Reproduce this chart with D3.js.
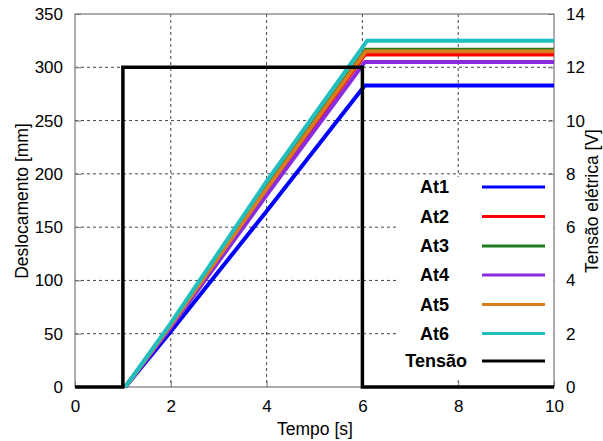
<!DOCTYPE html>
<html>
<head>
<meta charset="utf-8">
<script src="https://cdn.jsdelivr.net/npm/d3@7"></script>
<style>
  html, body { margin: 0; padding: 0; background: #fff; }
  svg text { font-family: "Liberation Sans", Arial, sans-serif; }
</style>
</head>
<body>
<svg id="chart" width="603" height="441"></svg>
<script>
// Displacement of each actuator over time [s, mm]
const seriesNames = ["At1", "At2", "At3", "At4", "At5", "At6"];
const seriesColors = ["#0000ff", "#ff0000", "#1e7b1e", "#8a2be2", "#d97c1e", "#1fbfbf"];
const at1 = [[1.05, 0], [2.0, 52], [4.0, 165], [6.05, 283], [10, 283]];
const at2 = [[1.05, 0], [2.0, 57], [4.0, 184], [6.05, 312], [10, 312]];
const at3 = [[1.05, 0], [2.0, 58], [4.0, 187], [6.07, 316.5], [10, 316.5]];
const at4 = [[1.05, 0], [2.0, 56], [4.0, 180], [6.05, 305], [10, 305]];
const at5 = [[1.05, 0], [2.0, 58], [4.0, 186], [6.07, 315], [10, 315]];
const at6 = [[1.05, 0], [2.0, 60], [4.0, 193], [6.1, 325], [10, 325]];
const seriesValues = [at1, at2, at3, at4, at5, at6];

// Supply voltage [s, V]
const tensaoLabel = "Tensão";
const tensao = [[0, 0], [1, 0], [1, 12], [6, 12], [6, 0], [10, 0]];

// Tick values
const xTicks = [0, 2, 4, 6, 8, 10];
const yTicks = [0, 50, 100, 150, 200, 250, 300, 350];
const y2Ticks = [0, 2, 4, 6, 8, 10, 12, 14];

const svg = d3.select("#chart");
const m = { left: 75, right: 554, top: 14, bottom: 387 };

const x = d3.scaleLinear().domain([0, 10]).range([m.left, m.right]);
const y = d3.scaleLinear().domain([0, 350]).range([m.bottom, m.top]);
const y2 = d3.scaleLinear().domain([0, 14]).range([m.bottom, m.top]);

// Grid
const grid = svg.append("g");
grid.selectAll("line.gx").data(xTicks.slice(1, -1)).join("line")
  .attr("x1", d => x(d)).attr("x2", d => x(d))
  .attr("y1", m.top).attr("y2", m.bottom)
  .attr("stroke", "#444").attr("stroke-width", 1).attr("stroke-dasharray", "3,3");
grid.selectAll("line.gy").data(yTicks.slice(1, -1)).join("line")
  .attr("x1", m.left).attr("x2", m.right)
  .attr("y1", d => y(d)).attr("y2", d => y(d))
  .attr("stroke", "#444").attr("stroke-width", 1).attr("stroke-dasharray", "3,3");

// Axes
const tickFont = "17px";
const xAxis = svg.append("g").attr("transform", `translate(0,${m.bottom})`)
  .call(d3.axisBottom(x).tickValues(xTicks).tickSizeInner(-6).tickSizeOuter(0).tickPadding(13));
const yAxis = svg.append("g").attr("transform", `translate(${m.left},0)`)
  .call(d3.axisLeft(y).tickValues(yTicks).tickSizeInner(-6).tickSizeOuter(0).tickPadding(12));
const y2Axis = svg.append("g").attr("transform", `translate(${m.right},0)`)
  .call(d3.axisRight(y2).tickValues(y2Ticks).tickSizeInner(-6).tickSizeOuter(0).tickPadding(12));
[xAxis, yAxis, y2Axis].forEach(a => {
  a.select(".domain").remove();
  a.selectAll(".tick line").attr("stroke", "#777");
  a.selectAll(".tick text").attr("fill", "#000").style("font-size", tickFont)
    .style("font-family", "'Liberation Sans', Arial, sans-serif");
});

// Frame
svg.append("rect")
  .attr("x", m.left).attr("y", m.top)
  .attr("width", m.right - m.left).attr("height", m.bottom - m.top)
  .attr("fill", "none").attr("stroke", "#777").attr("stroke-width", 1.2);

// Data lines
const lineMm = d3.line().x(d => x(d[0])).y(d => y(d[1]));
const lineV = d3.line().x(d => x(d[0])).y(d => y2(d[1]));
const plot = svg.append("g");
seriesValues.forEach((vals, i) => {
  plot.append("path").datum(vals)
    .attr("d", lineMm).attr("fill", "none")
    .attr("stroke", seriesColors[i]).attr("stroke-width", 4)
    .attr("stroke-linejoin", "miter");
});
plot.append("path").datum(tensao)
  .attr("d", lineV).attr("fill", "none")
  .attr("stroke", "#000").attr("stroke-width", 3.5).attr("stroke-linejoin", "miter");

// Legend
const legend = svg.append("g");
legend.append("rect")
  .attr("x", 397).attr("y", 177).attr("width", 156).attr("height", 201)
  .attr("fill", "#fff");
const legItems = seriesNames.map((n, i) => ({ name: n, color: seriesColors[i], right: 449 }))
  .concat([{ name: tensaoLabel, color: "#000", right: 467 }]);
const rowY = [187, 216.5, 246, 275, 304.5, 333.5, 361];
legItems.forEach((d, i) => {
  legend.append("text")
    .attr("x", d.right).attr("y", rowY[i]).attr("dy", "0.35em")
    .attr("text-anchor", "end").style("font-size", "18px").style("font-weight", "bold")
    .text(d.name);
  legend.append("line")
    .attr("x1", 482).attr("x2", 545).attr("y1", rowY[i]).attr("y2", rowY[i])
    .attr("stroke", d.color).attr("stroke-width", 3);
});

// Axis titles
svg.append("text").attr("x", 315).attr("y", 435).attr("text-anchor", "middle")
  .style("font-size", "17.5px").text("Tempo [s]");
svg.append("text").attr("transform", "translate(28,201) rotate(-90)")
  .attr("text-anchor", "middle").style("font-size", "17.5px").text("Deslocamento [mm]");
svg.append("text").attr("transform", "translate(598,201) rotate(-90)")
  .attr("text-anchor", "middle").style("font-size", "17.5px").text("Tensão elétrica [V]");
</script>
</body>
</html>
